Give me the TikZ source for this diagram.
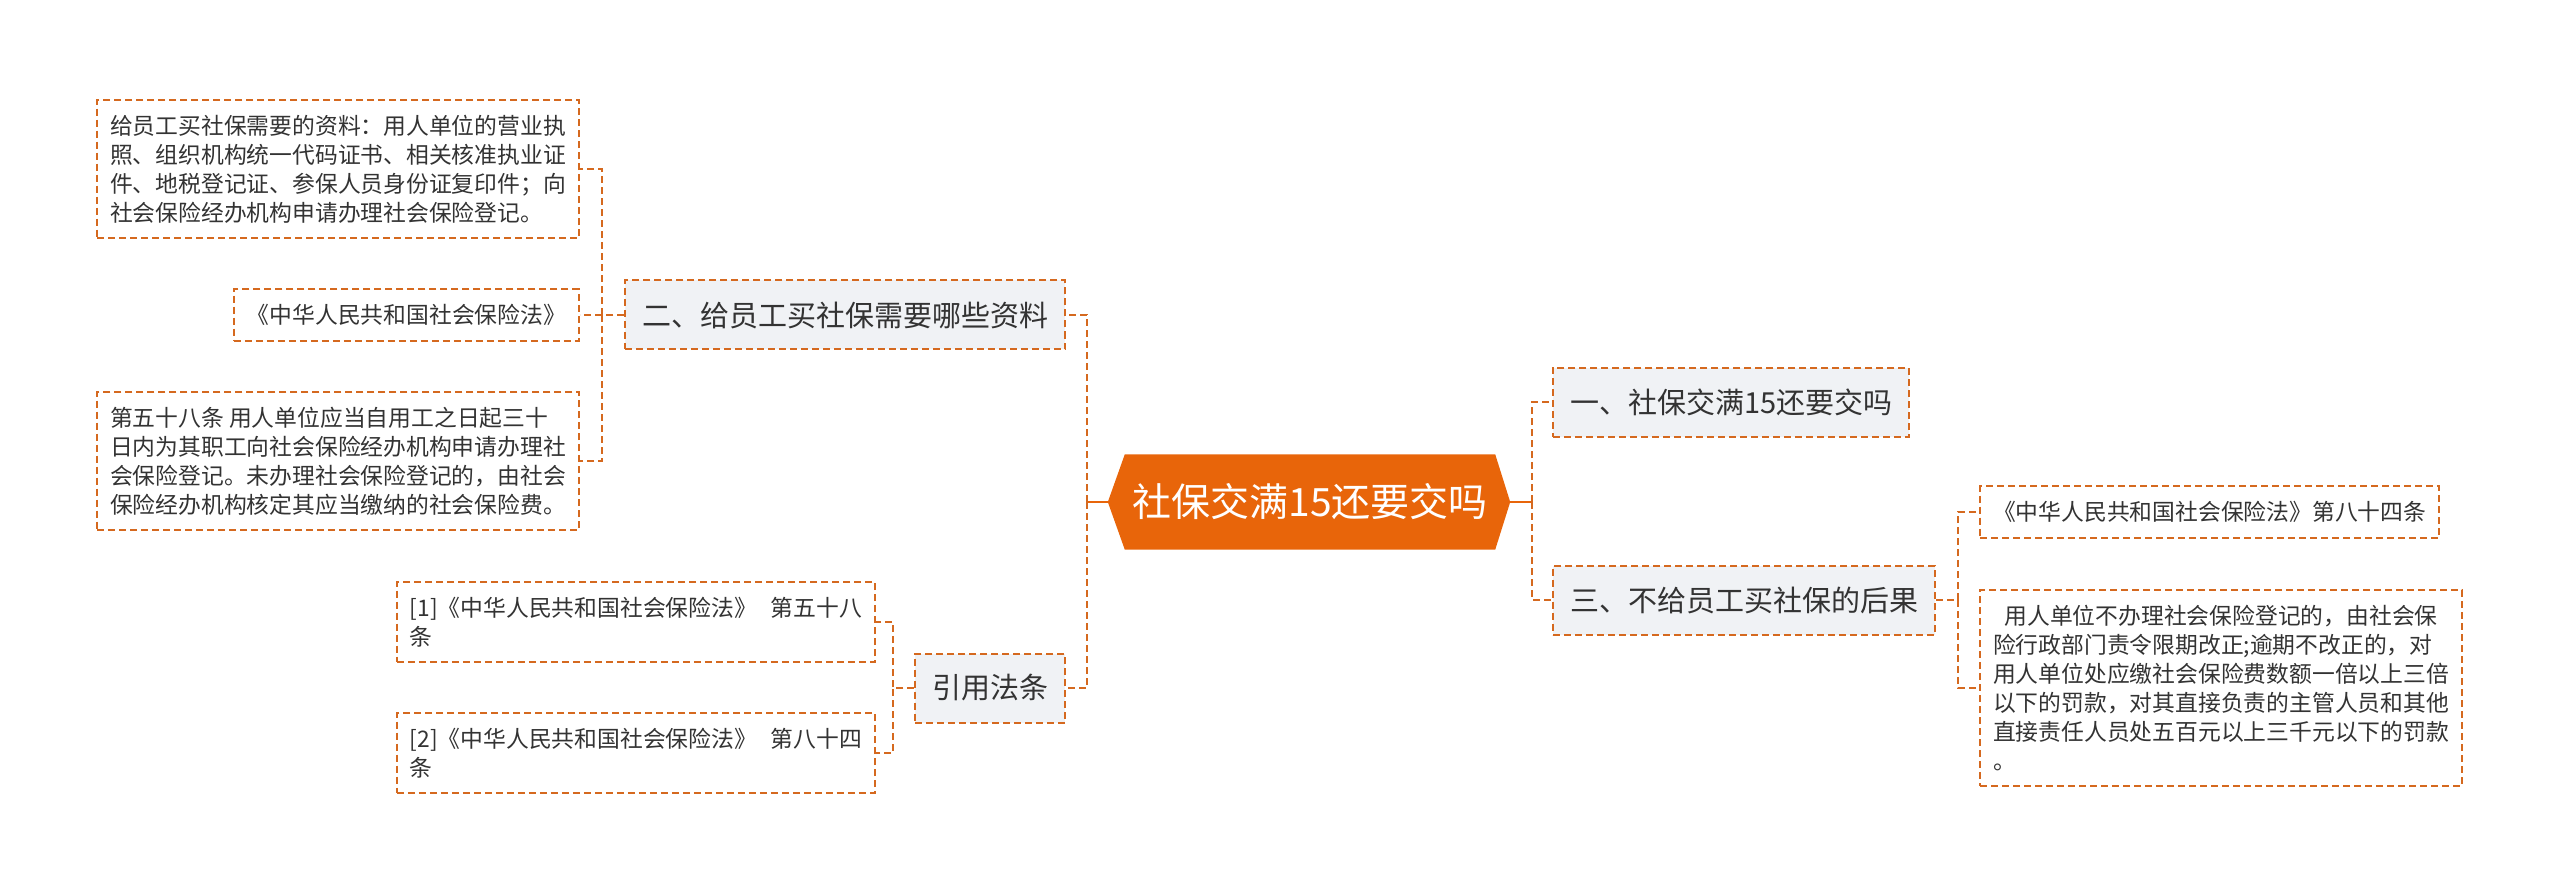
\documentclass[tikz,border=0pt]{standalone}
\usepackage{fontspec}
\setmainfont{Noto Sans CJK SC}
\usepackage{xcolor}
\usepackage{tikz}
\usetikzlibrary{backgrounds}
\definecolor{MapOrange}{HTML}{E8650A}
\definecolor{MapLine}{HTML}{D5691F}
\definecolor{MapGray}{HTML}{F0F2F5}
\definecolor{MapText}{HTML}{333333}

\tikzset{
  link/.style={MapLine, line width=2pt, dash pattern=on 7pt off 4pt},
  rootlink/.style={MapOrange, line width=2.5pt},
  leafbox/.style={draw=MapLine, line width=2pt, dash pattern=on 7pt off 4pt,
    fill=white, text=MapText, font=\fontsize{22.8}{29}\selectfont,
    align=left, inner xsep=13pt, inner ysep=15pt},
  topicbox/.style={draw=MapLine, line width=2pt, dash pattern=on 7pt off 4pt,
    fill=MapGray, text=MapText, font=\fontsize{29}{35}\selectfont,
    inner xsep=17pt, inner ysep=0pt, minimum height=69pt},
  rootbox/.style={text=white, font=\fontsize{39}{47}\selectfont,
    inner sep=0pt, minimum width=370pt, minimum height=95pt}
}

\begin{document}
\begin{tikzpicture}[x=1pt, y=-1pt]
  \useasboundingbox (0,0) rectangle (2560,893);

  \node[rootbox] (root) at (1310,502) {社保交满15还要交吗};
  \begin{scope}[on background layer]
    \fill[MapOrange] (root.north west) -- (root.north east) -- ([xshift=15pt]root.east)
      -- (root.south east) -- (root.south west) -- ([xshift=-17pt]root.west) -- cycle;
  \end{scope}
  \coordinate (rootL) at ([xshift=-17pt]root.west);
  \coordinate (rootR) at ([xshift=15pt]root.east);

  \node[topicbox, anchor=east] (t2) at (1066,315) {二、给员工买社保需要哪些资料};
  \node[topicbox, anchor=east] (t4) at (1066,688) {引用法条};
  \node[topicbox, anchor=west] (t1) at (1552,402) {一、社保交满15还要交吗};
  \node[topicbox, anchor=west] (t3) at (1552,600) {三、不给员工买社保的后果};

  \node[leafbox, anchor=east] (l1) at (580,169)
    {给员工买社保需要的资料：用人单位的营业执\\照、组织机构统一代码证书、相关核准执业证\\件、地税登记证、参保人员身份证复印件；向\\社会保险经办机构申请办理社会保险登记。};
  \node[leafbox, anchor=east] (l2) at (580,315) {《中华人民共和国社会保险法》};
  \node[leafbox, anchor=east] (l3) at (580,461)
    {第五十八条 用人单位应当自用工之日起三十\\日内为其职工向社会保险经办机构申请办理社\\会保险登记。未办理社会保险登记的，由社会\\保险经办机构核定其应当缴纳的社会保险费。};
  \node[leafbox, anchor=east] (c1) at (876,622) {[1]《中华人民共和国社会保险法》\hspace{0.6em}第五十八\\条};
  \node[leafbox, anchor=east] (c2) at (876,753) {[2]《中华人民共和国社会保险法》\hspace{0.6em}第八十四\\条};
  \node[leafbox, anchor=west] (r1) at (1979,512) {《中华人民共和国社会保险法》第八十四条};
  \node[leafbox, anchor=west] (r2) at (1979,688)
    {\hspace*{0.5em}用人单位不办理社会保险登记的，由社会保\\险行政部门责令限期改正;逾期不改正的，对\\用人单位处应缴社会保险费数额一倍以上三倍\\以下的罚款，对其直接负责的主管人员和其他\\直接责任人员处五百元以上三千元以下的罚款\\。};

  \draw[rootlink] (rootL) -- ([xshift=-21pt]rootL);
  \draw[rootlink] (rootR) -- ([xshift=22pt]rootR);
  \foreach \topic in {t2,t4}
    \draw[link] ([xshift=-21pt]rootL) |- (\topic.east);
  \foreach \topic in {t1,t3}
    \draw[link] ([xshift=22pt]rootR) |- (\topic.west);
  \foreach \leaf in {l1,l2,l3}
    \draw[link] (t2.west) -- ++(-22,0) |- (\leaf.east);
  \foreach \leaf in {c1,c2}
    \draw[link] (t4.west) -- ++(-21,0) |- (\leaf.east);
  \foreach \leaf in {r1,r2}
    \draw[link] (t3.east) -- ++(22,0) |- (\leaf.west);
\end{tikzpicture}
\end{document}
